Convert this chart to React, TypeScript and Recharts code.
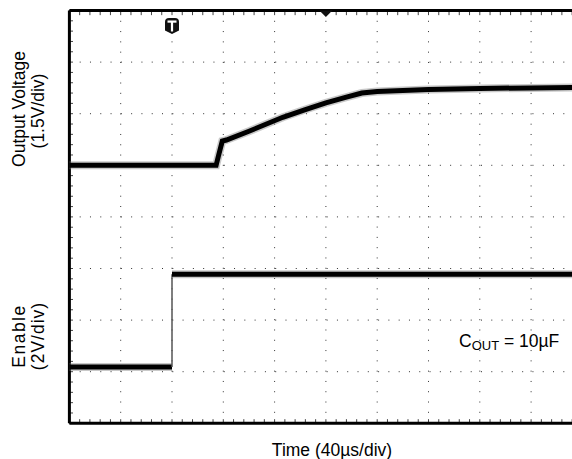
import React from "react";
import { ComposedChart, Line, XAxis, YAxis, CartesianGrid, ReferenceDot, ReferenceLine } from "recharts";

const FONT = '"Liberation Sans", Arial, Helvetica, sans-serif';

// screen is 10 x 8 divisions; x in divisions of 40µs, y in divisions from the bottom
const majorX = [0, 1, 2, 3, 4, 5, 6, 7, 8, 9, 10];
const majorY = [0, 1, 2, 3, 4, 5, 6, 7, 8];
const minorX = Array.from({ length: 51 }, (_, i) => i / 5);
const minorY = Array.from({ length: 41 }, (_, i) => i / 5);

const outputTrace = [
  { t: 0, v: 5.0 },
  { t: 2.86, v: 5.0 },
  { t: 2.91, v: 5.2 },
  { t: 2.98, v: 5.47 },
  { t: 3.06, v: 5.49 },
  { t: 3.5, v: 5.66 },
  { t: 4.16, v: 5.93 },
  { t: 4.6, v: 6.08 },
  { t: 5.0, v: 6.21 },
  { t: 5.4, v: 6.32 },
  { t: 5.7, v: 6.4 },
  { t: 6.0, v: 6.43 },
  { t: 6.5, v: 6.45 },
  { t: 7.0, v: 6.47 },
  { t: 8.0, v: 6.49 },
  { t: 9.0, v: 6.5 },
  { t: 10, v: 6.51 },
];

const enableLow = [
  { t: 0, v: 1.09 },
  { t: 2.0, v: 1.09 },
];
const enableEdge = [
  { t: 2.0, v: 1.09 },
  { t: 2.0, v: 2.89 },
];
const enableHigh = [
  { t: 2.0, v: 2.89 },
  { t: 10, v: 2.89 },
];

const triggerMark = { t: 2, v: 7.7 };
const centerMark = { t: 5, v: 8 };

const TriggerShape = (props: any) => {
  const { cx, cy } = props;
  return (
    <g>
      <path
        d={`M${cx - 7} ${cy - 4} Q${cx - 7} ${cy - 8} ${cx - 3} ${cy - 8} L${cx + 3} ${cy - 8} Q${cx + 7} ${cy - 8} ${cx + 7} ${cy - 4} L${cx + 7} ${cy + 4.5} L${cx} ${cy + 8} L${cx - 7} ${cy + 4.5} Z`}
        fill="#111"
      />
      <rect x={cx - 4.5} y={cy - 5.5} width={9} height={2.2} fill="#fff" />
      <rect x={cx - 1.1} y={cy - 4} width={2.2} height={9.5} fill="#fff" />
    </g>
  );
};

const CenterShape = (props: any) => {
  const { cx, cy } = props;
  return <path d={`M${cx - 6.5} ${cy} L${cx + 6.5} ${cy} L${cx} ${cy + 6.5} Z`} fill="#111" />;
};

const traceLine = (key: string, data: any[], halo: boolean, width: number, color: string) => (
  <Line
    key={key}
    data={data}
    dataKey="v"
    xAxisId="grid"
    yAxisId="grid"
    type="linear"
    stroke={color}
    strokeWidth={width}
    strokeOpacity={halo ? 0.4 : 1}
    dot={false}
    activeDot={false}
    isAnimationActive={false}
  />
);

export default function App() {
  return (
    <div style={{ position: "absolute", left: 0, top: 0, width: 572, height: 459, overflow: "hidden", background: "#fff" }}>
      <ComposedChart width={600} height={459} margin={{ top: 10.5, right: 17.6, bottom: 35.7, left: 69.4 }}>
        <XAxis xAxisId="grid" dataKey="t" type="number" domain={[0, 10]} ticks={majorX} hide />
        <YAxis yAxisId="grid" type="number" domain={[0, 8]} ticks={majorY} hide />
        <CartesianGrid xAxisId="grid" yAxisId="grid" stroke="#333" strokeWidth={1} strokeDasharray="1 9.29" />
        {minorX.map((t) => (
          <ReferenceLine key={`tt${t}`} xAxisId="grid" yAxisId="grid" segment={[{ x: t, y: 8 }, { x: t, y: 7.91 }]} stroke="#444" strokeWidth={1} />
        ))}
        {minorX.map((t) => (
          <ReferenceLine key={`bt${t}`} xAxisId="grid" yAxisId="grid" segment={[{ x: t, y: 0 }, { x: t, y: 0.08 }]} stroke="#444" strokeWidth={1} />
        ))}
        {minorY.map((v) => (
          <ReferenceLine key={`lt${v}`} xAxisId="grid" yAxisId="grid" segment={[{ x: 0, y: v }, { x: 0.07, y: v }]} stroke="#444" strokeWidth={1} />
        ))}
        <ReferenceLine xAxisId="grid" yAxisId="grid" x={0} stroke="#000" strokeWidth={3} />
        <ReferenceLine xAxisId="grid" yAxisId="grid" y={0} stroke="#000" strokeWidth={3} />
        <ReferenceLine xAxisId="grid" yAxisId="grid" y={8} stroke="#000" strokeWidth={3} />
        {traceLine("outHalo", outputTrace, true, 8, "#777")}
        {traceLine("out", outputTrace, false, 5, "#000")}
        {traceLine("enLowHalo", enableLow, true, 8, "#777")}
        {traceLine("enLow", enableLow, false, 5, "#000")}
        {traceLine("enEdge", enableEdge, false, 1.5, "#555")}
        {traceLine("enHighHalo", enableHigh, true, 8, "#777")}
        {traceLine("enHigh", enableHigh, false, 5, "#000")}
        <ReferenceDot xAxisId="grid" yAxisId="grid" x={triggerMark.t} y={triggerMark.v} shape={TriggerShape} ifOverflow="visible" />
        <ReferenceDot xAxisId="grid" yAxisId="grid" x={centerMark.t} y={centerMark.v} shape={CenterShape} ifOverflow="visible" />
      </ComposedChart>
      <svg width={572} height={459} style={{ position: "absolute", left: 0, top: 0, pointerEvents: "none" }} fontFamily={FONT} fontSize={17.5} fill="#000">
        <text transform="translate(25,109) rotate(-90)" textAnchor="middle">Output Voltage</text>
        <text transform="translate(44,111) rotate(-90)" textAnchor="middle">(1.5V/div)</text>
        <text transform="translate(25,336) rotate(-90)" textAnchor="middle" letterSpacing={1.5}>Enable</text>
        <text transform="translate(44,336) rotate(-90)" textAnchor="middle" letterSpacing={1}>(2V/div)</text>
        <text x={332} y={456} textAnchor="middle">Time (40µs/div)</text>
        <text x={459} y={347}>
          C<tspan fontSize={13} dy={3}>OUT</tspan>
          <tspan dy={-3}> = 10µF</tspan>
        </text>
      </svg>
    </div>
  );
}
